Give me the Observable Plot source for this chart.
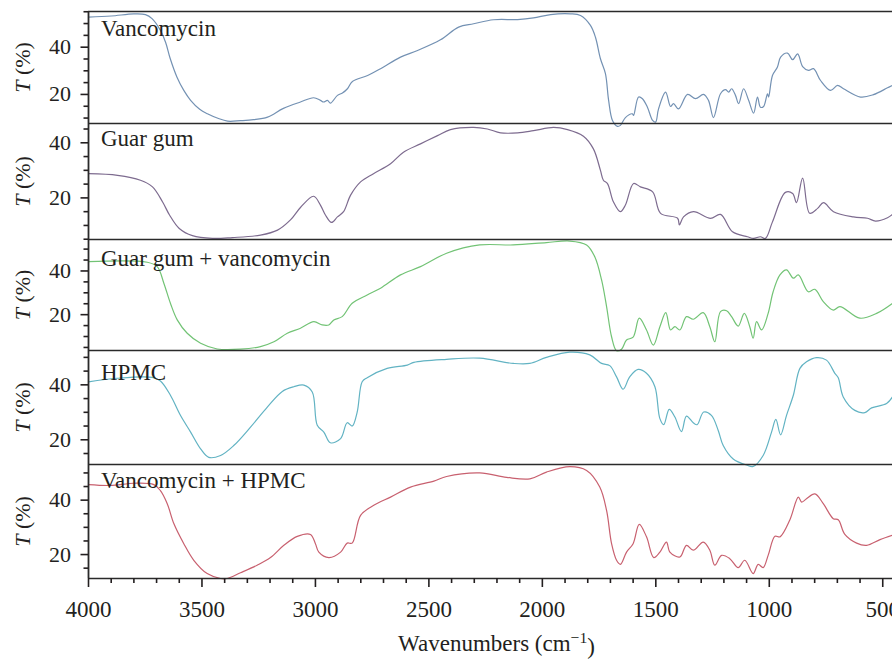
<!DOCTYPE html>
<html><head><meta charset="utf-8">
<script src="https://cdn.jsdelivr.net/npm/d3@7"></script>
<script src="https://cdn.jsdelivr.net/npm/@observablehq/plot@0.6"></script>
<style>
html,body{margin:0;padding:0;background:#fff;overflow:hidden;}
#chart svg{display:block;overflow:visible;}
#chart svg text{font-family:'Liberation Serif','DejaVu Serif',serif !important;font-variant-numeric:normal !important;}
</style></head><body><div id="chart"></div>
<script>
// ---- data (wavenumber cm^-1, transmittance %) ----
const sampleNames = ["Vancomycin", "Guar gum", "Guar gum + vancomycin", "HPMC", "Vancomycin + HPMC"];
const vancomycin = [[4000,52.7],[3900,53.2],[3800,54.1],[3749,53.8],[3720,52.1],[3683,47.1],[3660,42],[3640,35.2],[3610,27.3],[3580,21.7],[3550,17.5],[3510,13.7],[3476,11.8],[3430,9.9],[3387,8.7],[3330,8.9],[3273,9.3],[3211,10.4],[3141,14.1],[3066,16.8],[3008,18.6],[2978,17.5],[2964,16.8],[2947,17.5],[2934,16.3],[2903,19.6],[2881,20.6],[2859,22.4],[2837,25.5],[2770,28.0],[2713,30.9],[2625,35.8],[2550,38.6],[2449,43.1],[2369,48.5],[2303,49.9],[2215,51.6],[2109,51.7],[2039,52.4],[1964,53.8],[1876,54.1],[1832,53.4],[1788,49.2],[1766,44.2],[1744,35.1],[1722,28.8],[1708,17.5],[1691,9.0],[1669,6.5],[1656,6.9],[1634,10.2],[1603,11.8],[1598,11.1],[1576,18.9],[1559,18.2],[1537,14.6],[1514,9.0],[1501,8.3],[1488,13.9],[1457,21.0],[1435,14.9],[1422,16.1],[1400,13.9],[1360,20.0],[1325,18.2],[1290,20.0],[1268,17.5],[1246,10.2],[1215,20.3],[1193,22.0],[1179,21.0],[1166,22.4],[1149,19.6],[1135,16.1],[1113,22.4],[1091,17.5],[1069,12.1],[1052,18.9],[1039,14.6],[1025,14.9],[1008,20.3],[1003,18.9],[986,28.0],[964,31.6],[950,35.8],[920,37.5],[897,34.7],[875,37.2],[853,31.8],[827,30.2],[805,30.9],[774,25.9],[730,21.7],[699,23.8],[673,22.4],[598,18.9],[541,19.9],[479,22.8],[457,23.8]];
const guarGum = [[4000,28.8],[3872,28.2],[3771,26.4],[3718,24.0],[3674,18.6],[3643,13.8],[3600,8.9],[3542,6.3],[3454,5.3],[3366,5.6],[3242,6.5],[3167,8.3],[3110,12.0],[3066,16.5],[3008,20.6],[2978,17.4],[2956,13.8],[2929,11.1],[2903,13.1],[2876,15.0],[2845,21.0],[2801,25.8],[2744,28.8],[2669,32.4],[2612,36.6],[2537,39.6],[2462,42.6],[2405,44.8],[2303,45.6],[2242,45.0],[2184,43.6],[2109,43.6],[2039,44.4],[1951,45.6],[1889,44.8],[1819,42.4],[1775,37.8],[1744,30.0],[1731,26.4],[1713,25.2],[1687,18.6],[1656,15.0],[1634,17.4],[1598,25.2],[1568,24.0],[1514,22.2],[1479,14.4],[1404,12.6],[1396,10.2],[1378,13.1],[1334,15.0],[1259,12.6],[1215,14.0],[1162,7.7],[1096,5.9],[1069,5.3],[1039,5.9],[1017,5.3],[986,11.3],[929,22.0],[897,21.6],[880,18.3],[853,27.2],[822,14.4],[787,16.2],[761,18.3],[717,15.0],[629,13.1],[567,12.6],[532,11.6],[479,12.8],[457,14.0]];
const guarGumVancomycin = [[4000,44.3],[3741,44.0],[3697,42.0],[3668,34.4],[3639,25.2],[3609,17.6],[3565,11.5],[3506,6.9],[3433,4.3],[3330,4.2],[3242,5.4],[3183,7.6],[3124,11.5],[3066,13.8],[3007,16.8],[2970,15.3],[2941,15.3],[2919,17.6],[2882,19.1],[2838,25.2],[2772,29.0],[2713,32.1],[2625,38.2],[2537,42.0],[2422,48.1],[2276,51.9],[2128,51.9],[1982,53.0],[1879,53.7],[1805,51.9],[1769,46.5],[1739,35.9],[1717,23.7],[1695,9.9],[1673,3.5],[1651,4.2],[1629,8.4],[1600,9.7],[1573,18.4],[1541,13.0],[1511,6.1],[1482,14.5],[1456,20.9],[1435,13.0],[1416,14.5],[1394,13.0],[1365,19.1],[1335,17.9],[1291,20.9],[1262,14.5],[1240,7.6],[1215,21.4],[1188,21.8],[1166,19.1],[1137,14.8],[1110,20.6],[1086,14.5],[1071,9.2],[1056,16.8],[1034,13.0],[1005,20.6],[983,30.5],[953,38.2],[924,40.5],[894,36.7],[872,38.2],[828,30.5],[799,31.6],[762,26.0],[718,22.1],[689,23.7],[601,18.4],[527,20.6],[457,25.2]];
const hpmc = [[4000,41.1],[3874,42.4],[3719,42.7],[3683,41.4],[3639,36.2],[3595,28.9],[3550,22.8],[3506,16.7],[3470,13.6],[3418,14.3],[3360,17.9],[3286,24.6],[3212,31.9],[3146,37.6],[3095,39.3],[3051,39.9],[3014,37.4],[2992,25.3],[2963,22.8],[2934,18.9],[2889,20.4],[2860,26.2],[2838,25.0],[2816,30.1],[2794,41.1],[2772,42.6],[2684,46.0],[2595,47.2],[2566,48.2],[2422,49.3],[2276,49.7],[2128,47.8],[2055,47.8],[1982,50.0],[1879,51.9],[1791,50.9],[1739,47.8],[1703,47.0],[1673,42.9],[1644,38.4],[1615,42.9],[1578,45.6],[1541,44.2],[1504,39.3],[1482,27.7],[1465,25.5],[1441,31.1],[1416,28.3],[1387,23.0],[1365,28.6],[1335,26.2],[1318,25.5],[1289,30.1],[1255,28.9],[1225,23.4],[1203,17.9],[1159,13.0],[1100,10.8],[1071,10.3],[1027,14.3],[990,22.8],[971,27.4],[950,21.8],[924,28.9],[894,36.2],[865,46.0],[836,48.4],[792,49.9],[748,49.0],[711,44.2],[696,42.6],[674,35.6],[623,30.7],[579,29.9],[549,31.6],[483,33.2],[457,35.6]];
const vancomycinHpmc = [[4000,45.7],[3903,45.4],[3800,46.2],[3712,45.7],[3683,43.5],[3653,38.7],[3624,31.4],[3580,24.0],[3536,17.9],[3477,13.0],[3418,11.2],[3389,11.2],[3330,13.3],[3257,16.1],[3198,18.9],[3139,23.4],[3080,26.7],[3022,27.4],[3000,24.0],[2985,20.9],[2941,18.9],[2889,20.9],[2860,24.2],[2838,24.2],[2801,34.4],[2743,38.1],[2669,41.1],[2581,44.8],[2478,47.0],[2422,48.7],[2276,50.0],[2158,48.4],[2055,47.8],[1982,50.3],[1879,52.3],[1805,50.9],[1747,44.8],[1717,36.2],[1695,24.0],[1673,17.9],[1656,16.4],[1629,20.9],[1600,24.0],[1573,31.1],[1541,26.5],[1509,18.9],[1482,20.9],[1453,24.6],[1438,20.9],[1394,19.1],[1365,23.4],[1335,21.6],[1291,24.6],[1262,21.6],[1240,16.1],[1210,19.7],[1174,18.5],[1137,15.2],[1108,17.9],[1071,13.0],[1049,16.4],[1027,15.2],[1005,19.7],[975,26.7],[953,26.5],[909,32.8],[872,41.1],[857,39.3],[836,40.5],[799,42.3],[762,38.7],[718,33.2],[696,32.8],[667,27.4],[615,24.2],[571,23.4],[512,25.5],[457,27.1]];
const spectra = [vancomycin, guarGum, guarGumVancomycin, hpmc, vancomycinHpmc];
const xMajorTicks = [4000, 3500, 3000, 2500, 2000, 1500, 1000, 500];
const xMinorTicks = [3900,3800,3700,3600,3400,3300,3200,3100,2900,2800,2700,2600,2400,2300,2200,2100,1900,1800,1700,1600,1400,1300,1200,1100,900,800,700,600];
const yMajorTicks = [20, 40];
const yMinorTicks = [5, 10, 15, 25, 30, 35, 45, 50, 55];
const yDomains = [[7.7, 55.1], [4.9, 47.0], [3.6, 54.4], [11.0, 52.5], [11.2, 53.1]];
const xDomain = [4000, 457];

// ---- layout / style ----
const colors = ["#7391b3", "#7d6b8f", "#72c375", "#62b3c3", "#c8606f"];
const innerHeights = [112, 116, 111, 114, 114];
const labelDy = [8, 6, 10, 13, 7];
const ink = "#231f20";
const font = "'Liberation Serif', 'DejaVu Serif', serif";

const root = document.getElementById("chart");
spectra.forEach((data, i) => {
  const first = i === 0, last = i === spectra.length - 1;
  const mt = first ? 11 : 0, mb = last ? 82 : 0;
  const dom = yDomains[i];
  const inDom = v => v >= dom[0] && v <= dom[1];
  const marks = [
    Plot.line(data, {x: d => d[0], y: d => d[1], stroke: colors[i], strokeWidth: 1.2, curve: "catmull-rom"}),
    Plot.ruleY([dom[1]], {stroke: "#2a2a2a", strokeWidth: 1.6}),
    Plot.ruleX([xDomain[0]], {stroke: "#2a2a2a", strokeWidth: 1.8}),
    Plot.axisY(yMinorTicks.filter(inDom), {tickSize: 4.5, tickFormat: () => "", label: null, strokeWidth: 1.6, stroke: ink}),
    Plot.axisY(yMajorTicks, {tickSize: 7.5, tickPadding: 10, label: "T (%)", labelAnchor: "center", labelOffset: 74, fontSize: 22, strokeWidth: 1.6, stroke: ink, fill: ink}),
    Plot.text([sampleNames[i]], {frameAnchor: "top-left", dx: 12.5, dy: labelDy[i], fontSize: 23, fill: ink})
  ];
  if (last) {
    marks.push(
      Plot.ruleY([dom[0]], {stroke: "#2a2a2a", strokeWidth: 1.6}),
      Plot.axisX(xMinorTicks, {tickSize: 5, tickFormat: () => "", label: null, strokeWidth: 1.6, stroke: ink}),
      Plot.axisX(xMajorTicks, {tickSize: 9, tickPadding: 13, tickFormat: d => String(d), fontSize: 23, label: "Wavenumbers (cm−1)", labelAnchor: "center", labelOffset: 72, strokeWidth: 1.6, stroke: ink, fill: ink})
    );
  }
  const svg = Plot.plot({
    width: 892,
    height: innerHeights[i] + mt + mb,
    marginLeft: 88, marginRight: 0, marginTop: mt, marginBottom: mb,
    x: {domain: xDomain, axis: last ? undefined : null},
    y: {domain: dom},
    style: {fontFamily: font, fontSize: "22px", color: ink, background: "transparent", overflow: "visible"},
    marks
  });
  d3.select(svg).selectAll("text").attr("font-family", font).style("font-variant", "normal");
  // italic T in the y label
  const yl = d3.select(svg).select('g[aria-label="y-axis label"] text');
  if (!yl.empty()) {
    yl.text(null);
    yl.append("tspan").attr("font-style", "italic").text("T");
    yl.append("tspan").text(" (%)");
  }
  if (last) {
    const xl = d3.select(svg).select('g[aria-label="x-axis label"] text');
    if (!xl.empty()) {
      xl.attr("dx", 6);
      xl.text(null);
      xl.append("tspan").text("Wavenumbers (cm");
      xl.append("tspan").attr("dy", "-0.45em").attr("font-size", "0.68em").text("−1");
      xl.append("tspan").attr("dy", "0.45em").text(")");
    }
  }
  root.appendChild(svg);
});
</script></body></html>
